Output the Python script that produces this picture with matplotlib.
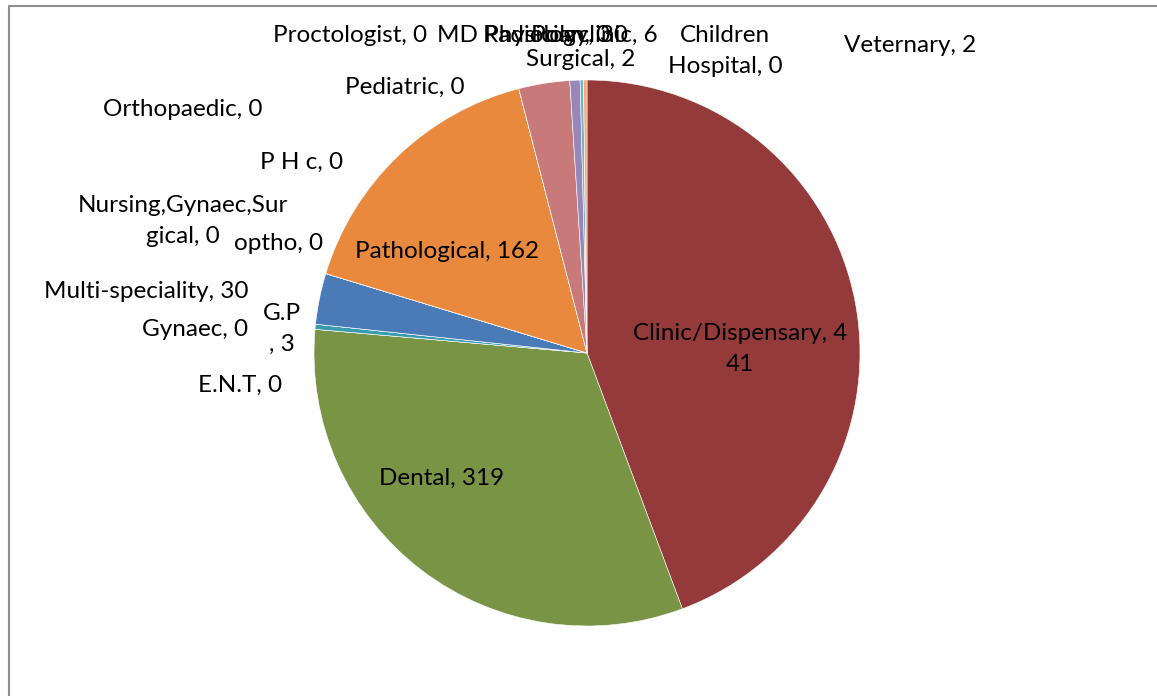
"""Pie chart of facility types (Excel-style)."""

import matplotlib

matplotlib.use("Agg")
import matplotlib.pyplot as plt

categories = [
    "Clinic/Dispensary", "Dental", "E.N.T", "G.P", "Gynaec", "Multi-speciality",
    "Nursing,Gynaec,Surgical", "optho", "P H c", "Orthopaedic", "Pathological",
    "Pediatric", "Proctologist", "MD Physician", "Radiology", "Polyclinic",
    "Surgical", "Children Hospital", "Veternary",
]
counts = [441, 319, 0, 3, 0, 30, 0, 0, 0, 0, 162, 0, 0, 0, 30, 6, 2, 0, 2]

# label text as drawn (Excel wrapped some of them)
label_text = {
    "Clinic/Dispensary": "Clinic/Dispensary, 4\n41",
    "Nursing,Gynaec,Surgical": "Nursing,Gynaec,Sur\ngical, 0",
    "G.P": "G.P\n, 3",
    "Children Hospital": "Children\nHospital, 0",
}
# label anchor (pixel x, pixel y from top, horizontal alignment)
label_pos = {
    "Clinic/Dispensary": (740, 349, "center"),
    "Dental": (442, 478, "center"),
    "E.N.T": (240, 385, "center"),
    "G.P": (282, 329, "center"),
    "Gynaec": (195, 330, "center"),
    "Multi-speciality": (146, 292, "center"),
    "Nursing,Gynaec,Surgical": (183, 221, "center"),
    "optho": (279, 244, "center"),
    "P H c": (302, 162, "center"),
    "Orthopaedic": (183, 110, "center"),
    "Pathological": (447, 252, "center"),
    "Pediatric": (405, 87, "center"),
    "Proctologist": (350, 35, "center"),
    "MD Physician": (437, 35, "left"),
    "Radiology": (483, 35, "left"),
    "Polyclinic": (658, 35, "right"),
    "Surgical": (581, 60, "center"),
    "Children Hospital": (725, 51, "center"),
    "Veternary": (910, 45, "center"),
}
colors = [
    "#953a3a", "#7a9445", "#8db3e2", "#3a9bb0", "#e6b9b8", "#4a7bb7",
    "#b3a2c7", "#93cddd", "#fac090", "#c4bd97", "#e8893e",
    "#d99694", "#c3d69b", "#a6a6a6", "#c87a7a", "#9987ba",
    "#6cb5cf", "#ffc000", "#f5a97a",
]

W, H = 1157, 696
plt.rcParams["font.family"] = ["Lato", "DejaVu Sans"]

fig = plt.figure(figsize=(W / 100, H / 100), dpi=100)
ax = fig.add_axes([0, 0, 1, 1])

ax.pie(
    counts,
    colors=colors,
    center=(587, H - 353),
    radius=273,
    startangle=90,
    counterclock=False,
    frame=True,
    wedgeprops=dict(edgecolor="white", linewidth=0.4),
)
ax.set_xlim(0, W)
ax.set_ylim(0, H)
ax.set_aspect("equal")
ax.axis("off")

for name, value in zip(categories, counts):
    text = label_text.get(name, f"{name}, {value}")
    x, y, ha = label_pos[name]
    ax.text(x, H - y, text, ha=ha, va="center", fontsize=17.5,
            color="black", linespacing=1.6)

# chart area border (cropped at right and bottom)
ax.plot([8.5, 8.5, W + 5], [-5, H - 5.5, H - 5.5], color="#8c8c8c",
        linewidth=1.5, clip_on=False)

fig.savefig("out.png", dpi=100)
plt.close(fig)
